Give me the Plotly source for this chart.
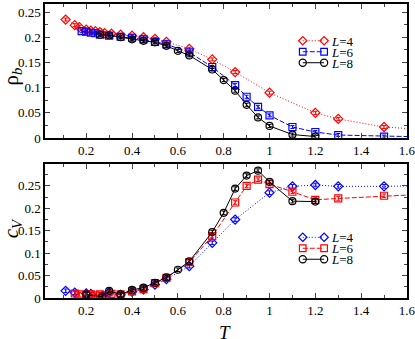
import plotly.graph_objects as go

# top panel: rho_b
t4_top = [0.11, 0.15, 0.17, 0.20, 0.22, 0.24, 0.26, 0.28, 0.31, 0.35, 0.40, 0.45, 0.50, 0.55,
          0.65, 0.75, 0.85, 1.00, 1.20, 1.30, 1.50, 1.70]
rho4 = [0.235, 0.224, 0.220, 0.215, 0.213, 0.212, 0.210, 0.208, 0.207, 0.205, 0.203, 0.200, 0.197, 0.191,
        0.177, 0.156, 0.131, 0.090, 0.050, 0.038, 0.022, 0.016]
t6_top = [0.18, 0.20, 0.22, 0.24, 0.26, 0.30, 0.35, 0.40, 0.45, 0.50, 0.55, 0.65, 0.75, 0.85,
          0.90, 0.95, 1.00, 1.10, 1.20, 1.30, 1.50, 1.70]
rho6 = [0.212, 0.211, 0.209, 0.208, 0.205, 0.203, 0.201, 0.199, 0.196, 0.191, 0.186, 0.170, 0.141, 0.105,
        0.082, 0.062, 0.045, 0.022, 0.012, 0.006, 0.003, 0.002]
t8_top = [0.26, 0.30, 0.35, 0.40, 0.45, 0.50, 0.55, 0.60, 0.65, 0.75, 0.80, 0.85, 0.90, 0.95, 1.00, 1.10, 1.20]
rho8 = [0.205, 0.204, 0.200, 0.196, 0.193, 0.190, 0.183, 0.173, 0.164, 0.136, 0.115, 0.094, 0.066, 0.041,
        0.024, 0.007, 0.003]

# bottom panel: c_V
t4_bot = [0.11, 0.15, 0.20, 0.22, 0.27, 0.30, 0.35, 0.40, 0.45, 0.50, 0.55, 0.65, 0.75, 0.85,
          1.00, 1.10, 1.20, 1.30, 1.50, 1.70]
cv4 = [0.016, 0.012, 0.010, 0.009, 0.004, 0.012, 0.007, 0.014, 0.019, 0.030, 0.042, 0.071, 0.123, 0.175,
       0.235, 0.249, 0.252, 0.249, 0.249, 0.251]
t6_bot = [0.15, 0.17, 0.20, 0.22, 0.24, 0.26, 0.28, 0.31, 0.35, 0.40, 0.45, 0.50, 0.55, 0.65,
          0.75, 0.85, 0.90, 0.95, 1.00, 1.10, 1.20, 1.30, 1.50, 1.70]
cv6 = [0.010, 0.008, 0.007, 0.008, 0.006, 0.008, 0.006, 0.009, 0.008, 0.015, 0.020, 0.033, 0.045, 0.080,
       0.138, 0.213, 0.250, 0.264, 0.254, 0.237, 0.219, 0.222, 0.228, 0.232]
t8_bot = [0.20, 0.27, 0.30, 0.35, 0.40, 0.45, 0.50, 0.55, 0.60, 0.65, 0.75, 0.80, 0.85, 0.90, 0.95,
          1.00, 1.10, 1.20]
cv8 = [0.008, 0.003, 0.016, 0.008, 0.018, 0.023, 0.034, 0.046, 0.063, 0.082, 0.147, 0.190, 0.244, 0.273,
       0.284, 0.259, 0.216, 0.215]

err_top = 0.003
err_bot = 0.004

legend_labels = ["<i>L</i>=4", "<i>L</i>=6", "<i>L</i>=8"]

serif = "Liberation Serif, Times New Roman, serif"
red, blue, black = "#ff0000", "#0000ff", "#000000"
dot, dash = "1px,2px", "5px,2px"


def series(x, y, err, color, symbol, ls, xa, ya):
    return go.Scatter(
        x=x, y=y, mode="lines+markers", xaxis=xa, yaxis=ya, showlegend=False,
        line=dict(color=color, width=1, dash=ls),
        marker=dict(symbol=symbol, size=7, color=color, line=dict(color=color, width=1.2)),
        error_y=dict(type="constant", value=err, color=color, thickness=1, width=2),
    )


fig = go.Figure([
    series(t4_top, rho4, err_top, red, "diamond-open", dot, "x", "y"),
    series(t6_top, rho6, err_top, blue, "square-open", dash, "x", "y"),
    series(t8_top, rho8, err_top, black, "circle-open", "solid", "x", "y"),
    series(t4_bot, cv4, err_bot, blue, "diamond-open", dot, "x2", "y2"),
    series(t6_bot, cv6, err_bot, red, "square-open", dash, "x2", "y2"),
    series(t8_bot, cv8, err_bot, black, "circle-open", "solid", "x2", "y2"),
])


# hand-drawn legends (marker at each end of the line sample, like the original)
def marker_shape(kind, xa, ya, xc, yc, color):
    base = dict(xref=xa + " domain", yref=ya + " domain", xsizemode="pixel", ysizemode="pixel",
                xanchor=xc, yanchor=yc, line=dict(color=color, width=1.2), fillcolor="rgba(0,0,0,0)")
    if kind == "diamond":
        return dict(base, type="path", path="M0,-4.2L4.2,0L0,4.2L-4.2,0Z")
    if kind == "square":
        return dict(base, type="rect", x0=-3.3, x1=3.3, y0=-3.3, y1=3.3)
    return dict(base, type="circle", x0=-3.6, x1=3.6, y0=-3.6, y1=3.6)


def add_legend(xa, ya, rows, entries):
    for yc, label, (color, kind, ls) in zip(rows, legend_labels, entries):
        fig.add_shape(type="line", xref=xa + " domain", yref=ya + " domain",
                      x0=0.712, x1=0.771, y0=yc, y1=yc, line=dict(color=color, width=1, dash=ls))
        fig.add_shape(marker_shape(kind, xa, ya, 0.712, yc, color))
        fig.add_shape(marker_shape(kind, xa, ya, 0.771, yc, color))
        fig.add_annotation(xref=xa + " domain", yref=ya + " domain", x=0.787, y=yc,
                           xanchor="left", yanchor="middle", showarrow=False, text=label,
                           height=10, borderpad=0,
                           font=dict(family=serif, size=13, color="black"))


add_legend("x", "y", [0.726, 0.644, 0.562],
           [(red, "diamond", dot), (blue, "square", dash), (black, "circle", "solid")])
add_legend("x2", "y2", [0.453, 0.371, 0.289],
           [(blue, "diamond", dot), (red, "square", dash), (black, "circle", "solid")])

# axis titles
title_font = dict(family=serif, size=21, color="black")
fig.add_annotation(xref="paper", yref="y domain", x=-0.091, y=0.46, textangle=-90, showarrow=False,
                   xanchor="center", yanchor="middle", text="ρ<sub><i>b</i></sub>", font=title_font)
fig.add_annotation(xref="paper", yref="y2 domain", x=-0.091, y=0.52, textangle=-90, showarrow=False,
                   xanchor="center", yanchor="middle", text="<i>c</i><sub><i>V</i></sub>", font=title_font)
fig.add_annotation(xref="x2 domain", yref="paper", x=0.497, y=-0.116, showarrow=False,
                   xanchor="center", yanchor="middle", height=14, borderpad=0,
                   text="<i>T</i>", font=dict(title_font, size=19))

xcommon = dict(range=[0.02, 1.6001], dtick=0.2, tick0=0, ticks="inside", ticklen=5, tickwidth=1,
               minor=dict(dtick=0.1, ticks="inside", ticklen=3, tickwidth=1),
               showline=True, linecolor="black", linewidth=1.5, mirror="allticks",
               showgrid=False, zeroline=False, automargin=False, ticklabeloverflow="allow",
               tickfont=dict(family=serif, size=13, color="black"))
ycommon = dict(dtick=0.05, tick0=0, ticks="inside", ticklen=5, tickwidth=1,
               minor=dict(dtick=0.025, ticks="inside", ticklen=3, tickwidth=1),
               showline=True, linecolor="black", linewidth=1.5, mirror="allticks",
               showgrid=False, zeroline=False, automargin=False,
               tickfont=dict(family=serif, size=13, color="black"))

fig.update_layout(
    width=415, height=339,
    margin=dict(l=45, r=8, t=4, b=41),
    paper_bgcolor="white", plot_bgcolor="white",
    showlegend=False,
    xaxis=dict(xcommon, domain=[0, 1], anchor="y"),
    yaxis=dict(ycommon, domain=[0.544, 1], range=[0, 0.266], anchor="x"),
    xaxis2=dict(xcommon, domain=[0, 1], anchor="y2"),
    yaxis2=dict(ycommon, domain=[0, 0.456], range=[0, 0.299], anchor="x2"),
)

# the page's default body margin would shift the figure 8px; drop it
fig.write_html("out.html", config={"displayModeBar": False},
               post_script="document.body.style.margin='0px';")
